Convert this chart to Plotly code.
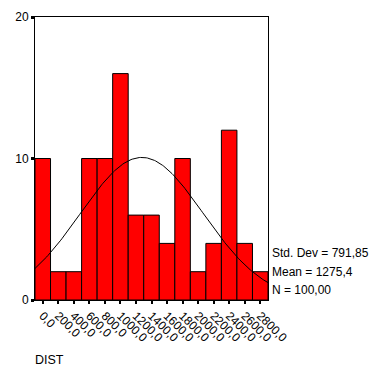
import numpy as np
import plotly.graph_objects as go

bin_centers = [0, 200, 400, 600, 800, 1000, 1200, 1400, 1600, 1800, 2000, 2200, 2400, 2600, 2800]
counts = [10, 2, 2, 10, 10, 16, 6, 6, 4, 10, 2, 4, 12, 4, 2]
tick_labels = ["0,0", "200,0", "400,0", "600,0", "800,0", "1000,0", "1200,0", "1400,0",
               "1600,0", "1800,0", "2000,0", "2200,0", "2400,0", "2600,0", "2800,0"]
std_dev = 791.85
mean = 1275.4
n = 100
bin_width = 200
stats_text = ["Std. Dev = 791,85", "Mean = 1275,4", "N = 100,00"]

fig = go.Figure()
fig.add_trace(go.Bar(
    x=bin_centers, y=counts, width=bin_width,
    marker=dict(color="#FF0000", line=dict(color="black", width=1)),
    hoverinfo="skip"))

xs = np.linspace(bin_centers[0] - bin_width / 2, bin_centers[-1] + bin_width / 2, 200)
ys = n * bin_width / (std_dev * np.sqrt(2 * np.pi)) * np.exp(-0.5 * ((xs - mean) / std_dev) ** 2)
fig.add_trace(go.Scatter(x=xs, y=ys, mode="lines", line=dict(color="black", width=1), hoverinfo="skip"))

for i, t in enumerate(stats_text):
    fig.add_annotation(text=t, xref="paper", yref="paper", x=1.0, y=[0.165, 0.10, 0.035][i],
                       xanchor="left", yanchor="middle", showarrow=False, xshift=2,
                       font=dict(size=12, color="black"))

fig.add_annotation(text="DIST", xref="paper", yref="paper", x=0, y=-0.213, xanchor="left",
                   yanchor="middle", showarrow=False, xshift=-2,
                   font=dict(size=12.5, color="black"))

fig.update_layout(
    width=375, height=381,
    margin=dict(l=35, r=107, t=17, b=81),
    paper_bgcolor="white", plot_bgcolor="white",
    showlegend=False, bargap=0,
    font=dict(family="Liberation Sans, Arial, sans-serif", color="black", size=11),
    xaxis=dict(range=[-100, 2900], tickvals=bin_centers, ticktext=tick_labels, tickangle=45,
               showgrid=False, zeroline=False, showline=True, linecolor="black", linewidth=1,
               mirror=True, ticks="outside", ticklen=3, tickwidth=2, tickcolor="black",
               tickfont=dict(size=12), automargin=False),
    yaxis=dict(range=[0, 20], tickvals=[0, 10, 20], showgrid=False, zeroline=False,
               showline=True, linecolor="black", linewidth=1, mirror=True,
               ticks="outside", ticklen=3, tickwidth=3, tickcolor="black",
               tickfont=dict(size=12), automargin=False),
)

fig.write_html("out.html", config={"displayModeBar": False, "staticPlot": True},
               post_script="document.body.style.margin='0';document.body.style.padding='0';")
